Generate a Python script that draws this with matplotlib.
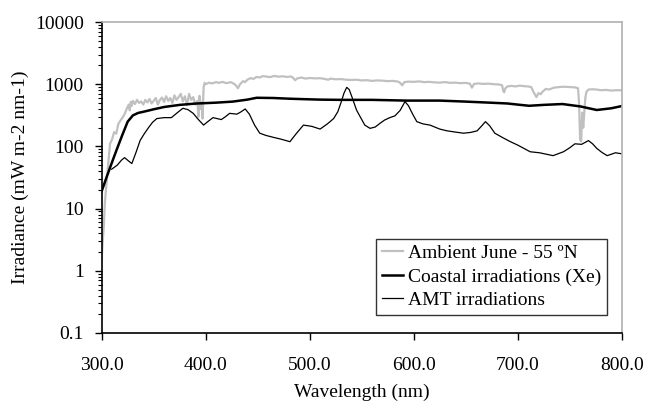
import numpy as np
import matplotlib.pyplot as plt
from matplotlib.ticker import FixedLocator, LogLocator, NullFormatter

plt.rcParams['font.family'] = ['Liberation Serif', 'DejaVu Serif']

# Ambient June - 55 N (spectrum)
wl_amb = [300, 301, 302, 303, 305, 307, 308, 310, 312, 314, 316, 318, 320, 322, 324, 326, 327,
          328, 329, 330, 332, 334, 336, 338, 340, 342, 344, 346, 348, 350, 352, 354, 356, 358,
          360, 362, 364, 366, 368, 370, 372, 374, 376, 378, 380, 382, 384, 386, 388, 390, 392,
          393, 394, 395, 396, 397, 398, 399, 400, 403, 406, 410, 413, 416, 420, 424, 427, 429,
          431, 433, 436, 438, 440, 443, 446, 449, 452, 455, 458, 462, 466, 470, 474, 478, 482,
          484, 486, 488, 492, 496, 500, 505, 510, 515, 518, 520, 525, 530, 535, 540, 545, 550,
          555, 560, 565, 570, 575, 580, 585, 587, 589, 591, 595, 600, 605, 610, 615, 620, 625,
          630, 635, 640, 645, 650, 654, 656, 658, 662, 667, 672, 677, 682, 685, 686, 687, 688,
          690, 694, 698, 702, 706, 710, 713, 715, 717, 718, 720, 722, 724, 727, 730, 735, 740,
          745, 750, 755, 758, 759, 760, 761, 762, 763, 764, 765, 766, 768, 772, 776, 780, 785,
          790, 795, 800]
irr_amb = [1.5, 3, 5, 12, 30, 70, 110, 130, 170, 160, 230, 260, 290, 330, 400, 470, 380,
           520, 450, 540, 480, 560, 500, 530, 470, 560, 510, 580, 490, 540, 600, 470, 560, 610,
           520, 640, 540, 600, 500, 660, 560, 620, 700, 530, 640, 460, 700, 560, 620, 470, 540,
           300, 650, 400, 520, 280, 900, 1050, 1000, 1060, 1030, 1080, 1050, 1090, 1040, 1080, 1020, 960,
           860, 1000, 1120, 1080, 1180, 1250, 1220, 1310, 1280, 1350, 1330, 1300, 1360, 1320, 1340, 1310, 1330,
           1270, 1160, 1240, 1280, 1230, 1260, 1240, 1250, 1210, 1180, 1230, 1200, 1210, 1180, 1170, 1180, 1150,
           1160, 1130, 1150, 1140, 1120, 1130, 1100, 1050, 960, 1080, 1100, 1090, 1110, 1080, 1090, 1070, 1060,
           1080, 1050, 1060, 1040, 1050, 1020, 880, 1010, 1030, 1010, 1020, 1000, 990, 960, 790, 740, 850,
           920, 940, 920, 950, 930, 920, 900, 760, 660, 620, 720, 690, 760, 840, 820, 880, 900,
           910, 900, 890, 860, 500, 130, 120, 350, 200, 340, 600, 750, 820, 830, 820, 800, 810,
           790, 800, 800]

# Coastal irradiations (Xe)
wl_xe = [300, 305, 310, 315, 320, 325, 330, 335, 340, 350, 360, 375, 390, 410, 426, 440, 449,
         465, 480, 491, 510, 530, 560, 593, 625, 650, 673, 690, 700, 711, 725, 743, 760, 776,
         790, 800]
irr_xe = [19, 33, 56, 94, 155, 250, 315, 345, 360, 395, 430, 465, 488, 505, 525, 565, 605,
          600, 585, 577, 565, 560, 560, 545, 545, 525, 505, 490, 470, 450, 465, 480, 440, 385,
          410, 445]

# AMT irradiations
wl_amt = [309.6, 315, 319, 322, 326, 329, 333, 337, 341, 345, 349, 353, 360, 367, 372, 378,
          383, 388, 393, 398, 402, 407, 411, 415, 419, 423, 430, 434, 438, 442, 447, 452, 458,
          465, 473, 481, 487, 494, 502, 510, 517, 523, 527, 530, 533, 535.6, 538, 541, 545, 549,
          553, 558, 563, 567.6, 572, 577, 582, 587, 591.6, 595, 599, 603, 609, 615.7, 625, 632,
          640, 648, 655, 661, 665, 669, 673, 678, 685, 693, 700, 712, 721, 734, 744, 750, 755,
          761.5, 768, 772, 776, 781, 786, 794, 800]
irr_amt = [43, 50, 60, 66, 58, 53, 80, 125, 160, 200, 245, 280, 290, 290, 340, 410,
           390, 340, 270, 220, 250, 290, 280, 270, 300, 340, 330, 360, 400, 330, 220, 163, 150,
           140, 130, 119, 160, 220, 210, 190, 230, 280, 360, 500, 720, 890, 820, 600, 385, 290,
           220, 195, 205, 235, 265, 290, 310, 380, 525, 450, 330, 250, 230, 220, 190, 178,
           170, 163, 168, 178, 210, 250, 215, 163, 140, 119, 105, 82, 79, 71, 82, 95, 110,
           108, 124, 110, 93, 80, 71, 79, 76]

fig = plt.figure(figsize=(6.46, 4.03), dpi=100)
ax = fig.add_axes([0.1574, 0.1737, 0.805, 0.7717])

ax.plot(wl_amb, irr_amb, color='#c0c0c0', lw=1.6, label='Ambient June - 55 ºN')
ax.plot(wl_xe, irr_xe, color='black', lw=1.8, label='Coastal irradiations (Xe)')
ax.plot(wl_amt, irr_amt, color='black', lw=0.9, label='AMT irradiations')

ax.set_yscale('log')
ax.set_xlim(300, 800)
ax.set_ylim(0.1, 10000)

ax.xaxis.set_major_locator(FixedLocator([300, 400, 500, 600, 700, 800]))
ax.set_xticklabels(['300.0', '400.0', '500.0', '600.0', '700.0', '800.0'])
ax.yaxis.set_major_locator(FixedLocator([0.1, 1, 10, 100, 1000, 10000]))
ax.set_yticklabels(['0.1', '1', '10', '100', '1000', '10000'])
ax.yaxis.set_minor_locator(LogLocator(base=10, subs=np.arange(2, 10)))
ax.yaxis.set_minor_formatter(NullFormatter())

ax.tick_params(axis='both', which='major', direction='out', length=5, width=1,
               labelsize=14, color='black')
ax.tick_params(axis='y', which='minor', direction='out', length=3, width=0.8)
ax.tick_params(axis='x', pad=12)
ax.tick_params(axis='y', pad=8)

for side in ['left', 'bottom']:
    ax.spines[side].set_color('black')
    ax.spines[side].set_linewidth(1.2)
for side in ['top', 'right']:
    ax.spines[side].set_color('#b0b0b0')
    ax.spines[side].set_linewidth(1.2)

ax.set_xlabel('Wavelength (nm)', fontsize=14, labelpad=7)
ax.set_ylabel('Irradiance (mW m-2 nm-1)', fontsize=14, labelpad=4)

leg = ax.legend(loc='lower right', bbox_to_anchor=(0.972, 0.058), borderaxespad=0,
                fontsize=14, frameon=True, fancybox=False, handlelength=1.1,
                handletextpad=0.25, labelspacing=0.3, borderpad=0.3)
leg.get_frame().set_edgecolor('black')
leg.get_frame().set_linewidth(1.0)

fig.savefig('out.png', dpi=100)
